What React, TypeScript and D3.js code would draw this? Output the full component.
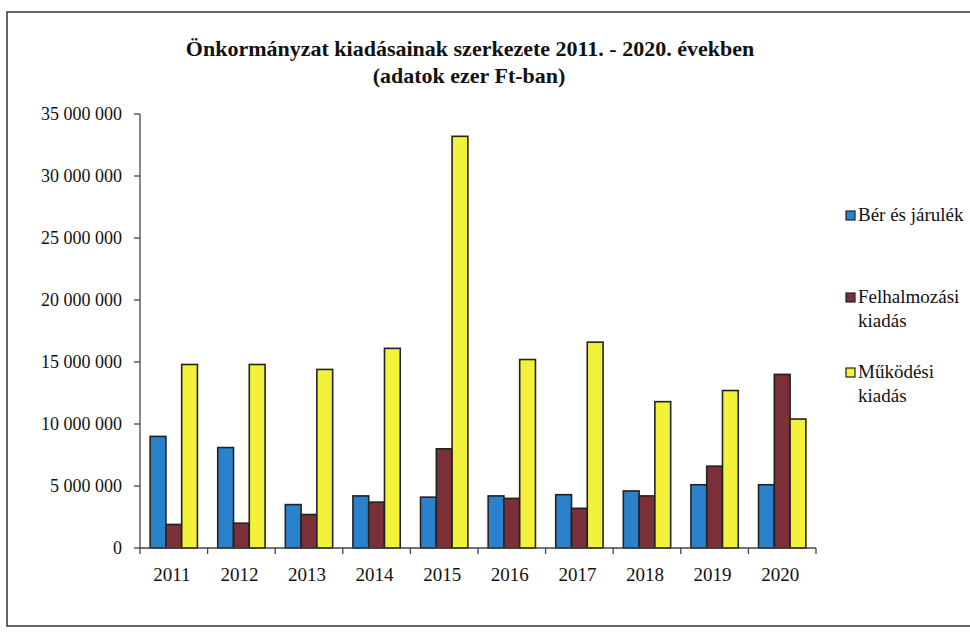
import React from "react";
import * as d3 from "d3";

const years = ["2011", "2012", "2013", "2014", "2015", "2016", "2017", "2018", "2019", "2020"];
const berJarulek = [9.0, 8.1, 3.5, 4.2, 4.1, 4.2, 4.3, 4.6, 5.1, 5.1];
const felhalmozasi = [1.9, 2.0, 2.7, 3.7, 8.0, 4.0, 3.2, 4.2, 6.6, 14.0];
const mukodesi = [14.8, 14.8, 14.4, 16.1, 33.2, 15.2, 16.6, 11.8, 12.7, 10.4];
const yTicks = [0, 5, 10, 15, 20, 25, 30, 35];
const legendLines = [["Bér és járulék"], ["Felhalmozási", "kiadás"], ["Működési", "kiadás"]];

const colors = ["#2b82cc", "#7b2f38", "#f2f23a"];
const serif = "Liberation Serif, DejaVu Serif, serif";

export default function App() {
  const W = 970, H = 632;
  const x0 = 140, x1 = 816, yBottom = 548, yTop = 114;
  const x = d3.scaleBand<string>().domain(years).range([x0, x1]).paddingInner(0.3).paddingOuter(0.15);
  const y = d3.scaleLinear().domain([0, 35]).range([yBottom, yTop]);
  const keys = ["a", "b", "c"];
  const xi = d3.scaleBand<string>().domain(keys).range([0, x.bandwidth()]);
  const data = [berJarulek, felhalmozasi, mukodesi];
  const fmt = (v: number) => (v === 0 ? "0" : d3.format(",")(v * 1000000).replace(/,/g, " "));
  const step = x.step();
  const txt = { fontFamily: serif, fill: "#111" } as React.CSSProperties;
  const legendY = [221, 303, 378];

  return (
    <svg width={W} height={H} style={{ position: "absolute", left: 0, top: 0, background: "#fff" }}>
      <path d={`M${W} 12 L7 12 L7 626 L${W} 626`} fill="none" stroke="#333" strokeWidth={1.5} />
      <text x={470} y={56} textAnchor="middle" style={{ ...txt, fontWeight: "bold", fontSize: 22 }}>
        Önkormányzat kiadásainak szerkezete 2011. - 2020. években
      </text>
      <text x={469} y={83} textAnchor="middle" style={{ ...txt, fontWeight: "bold", fontSize: 22 }}>
        (adatok ezer Ft-ban)
      </text>
      <line x1={x0} x2={x0} y1={yTop} y2={yBottom} stroke="#444" strokeWidth={1.3} />
      {yTicks.map((t) => (
        <g key={t}>
          <line x1={x0 - 6} x2={x0} y1={y(t)} y2={y(t)} stroke="#444" strokeWidth={1.3} />
          <text x={122} y={y(t) + 6} textAnchor="end" style={{ ...txt, fontSize: 18 }}>
            {fmt(t)}
          </text>
        </g>
      ))}
      {years.map((yr, i) => (
        <g key={yr} transform={`translate(${x(yr)},0)`}>
          {data.map((s, j) => (
            <rect
              key={j}
              x={xi(keys[j])}
              y={y(s[i])}
              width={xi.bandwidth()}
              height={yBottom - y(s[i])}
              fill={colors[j]}
              stroke="#222"
              strokeWidth={1.6}
            />
          ))}
        </g>
      ))}
      <line x1={x0} x2={x1} y1={yBottom} y2={yBottom} stroke="#444" strokeWidth={1.3} />
      {d3.range(years.length + 1).map((k) => (
        <line key={k} x1={x0 + k * step} x2={x0 + k * step} y1={yBottom} y2={yBottom + 6} stroke="#444" strokeWidth={1.3} />
      ))}
      {years.map((yr) => (
        <text key={yr} x={(x(yr) as number) + x.bandwidth() / 2 - 2} y={581} textAnchor="middle" style={{ ...txt, fontSize: 19 }}>
          {yr}
        </text>
      ))}
      {legendLines.map((lines, j) => (
        <g key={j}>
          <rect x={846} y={legendY[j] - 10} width={9} height={9} fill={colors[j]} stroke="#222" strokeWidth={1.2} />
          {lines.map((ln, k) => (
            <text key={k} x={858} y={legendY[j] + k * 24} style={{ ...txt, fontSize: 19 }}>
              {ln}
            </text>
          ))}
        </g>
      ))}
    </svg>
  );
}
